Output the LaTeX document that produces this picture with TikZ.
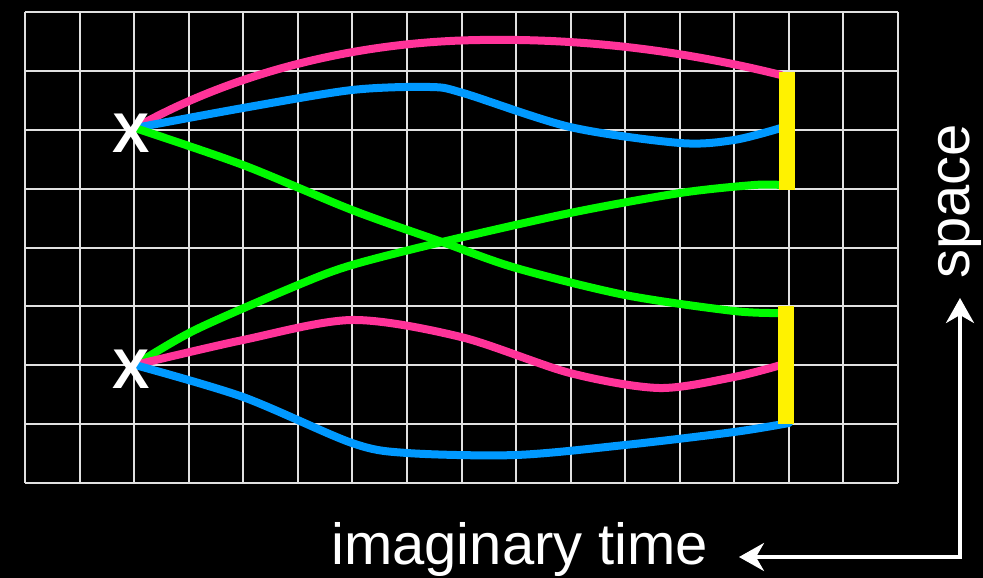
\documentclass[tikz,border=0pt]{standalone}
\usepackage{fontspec}
\setmainfont{Liberation Sans}
\usetikzlibrary{arrows.meta}

\definecolor{wpink}{RGB}{255,51,153}
\definecolor{wblue}{RGB}{0,153,255}
\definecolor{wgreen}{RGB}{0,250,0}
\definecolor{wgrid}{RGB}{225,225,225}

\begin{document}
\begin{tikzpicture}[x=1pt, y=-1pt,
    gridline/.style={draw=wgrid, line width=2pt},
    wpath/.style={line width=8pt, line cap=round, line join=round},
    bar/.style={fill=yellow, minimum width=16pt, minimum height=118pt, inner sep=0pt},
    src/.style={text=white, font=\fontsize{56}{56}\selectfont\bfseries, inner sep=0pt},
    lbl/.style={text=white, font=\fontsize{58}{58}\selectfont, inner sep=0pt},
    ax/.style={draw=white, line width=3.5pt, {Stealth[length=25pt,width=28pt,inset=8pt]}-{Stealth[length=25pt,width=28pt,inset=8pt]}}
]
\fill[black] (0,0) rectangle (983,578);
\useasboundingbox (0,0) rectangle (983,578);

% lattice
\foreach \i in {0,...,16}
  \draw[gridline] (25+\i*54.5625,12) -- (25+\i*54.5625,483);
\foreach \j in {0,...,8}
  \draw[gridline] (25,12+\j*58.875) -- (898,12+\j*58.875);

\coordinate (srcA) at (135,128);
\coordinate (srcB) at (135,365);
\coordinate (endA1) at (781,75);
\coordinate (endA2) at (781,128);
\coordinate (endA3) at (781,185);
\coordinate (endB1) at (781,313);
\coordinate (endB2) at (781,365);
\coordinate (endB3) at (789,423);

% world lines
\draw[wpath, wpink] (srcA) .. controls (220,80) and (340,42) .. (480,40) .. controls (600,38) and (700,55) .. (endA1);
\draw[wpath, wblue] plot[smooth] coordinates {(srcA) (243,108) (352,90) (430,87) (463,93) (570,127) (680,143) (734,140) (endA2)};
\draw[wpath, wgreen] plot[smooth] coordinates {(srcA) (243,165) (352,210) (442,242) (516,268) (625,295) (734,311) (endB1)};
\draw[wpath, wgreen] plot[smooth] coordinates {(srcB) (195,330) (298,285) (352,265) (442,242) (570,213) (680,193) (754,185) (endA3)};
\draw[wpath, wpink] plot[smooth] coordinates {(srcB) (243,340) (352,320) (461,337) (570,373) (659,388) (734,377) (endB2)};
\draw[wpath, wblue] plot[smooth] coordinates {(srcB) (243,397) (352,443) (407,453) (516,455) (625,445) (734,432) (endB3)};

\node[bar] (barA) at (787,131) {};
\node[bar] (barB) at (786,365) {};

\node[src] (xA) at (131,133) {X};
\node[src] (xB) at (131,369) {X};

% axes
\node[lbl, anchor=base west] (timelbl) at (331,564) {imaginary time};
\node[lbl, rotate=90, anchor=base west] (spacelbl) at (969,279) {space};
\coordinate (corner) at (960,557);
\coordinate (timetip) at (739,557);
\coordinate (spacetip) at (960,298);
\draw[ax] (timetip) -- (corner) -- (spacetip);
\end{tikzpicture}
\end{document}
